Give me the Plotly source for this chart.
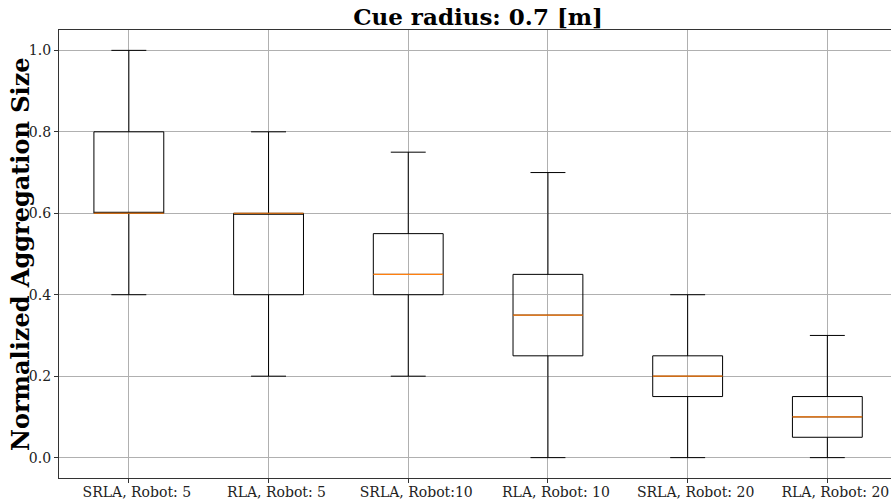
import plotly.graph_objects as go

categories = ["SRLA, Robot: 5", "RLA, Robot: 5", "SRLA, Robot:10",
              "RLA, Robot: 10", "SRLA, Robot: 20", "RLA, Robot: 20"]
lower_whisker = [0.4, 0.2, 0.2, 0.0, 0.0, 0.0]
q1_values = [0.6, 0.4, 0.4, 0.25, 0.15, 0.05]
median_values = [0.6, 0.6, 0.45, 0.35, 0.2, 0.1]
q3_values = [0.8, 0.6, 0.55, 0.45, 0.25, 0.15]
upper_whisker = [1.0, 0.8, 0.75, 0.7, 0.4, 0.3]
y_ticks = [0.0, 0.2, 0.4, 0.6, 0.8, 1.0]

positions = list(range(1, len(categories) + 1))
BOX_W = 0.5
FONT = "DejaVu Serif"

fig = go.Figure()
for i, pos in enumerate(positions):
    fig.add_trace(go.Box(
        x=[pos], q1=[q1_values[i]], median=[median_values[i]], q3=[q3_values[i]],
        lowerfence=[lower_whisker[i]], upperfence=[upper_whisker[i]],
        width=BOX_W, whiskerwidth=0.5, boxpoints=False,
        line=dict(color="black", width=1), fillcolor="rgba(0,0,0,0)",
        showlegend=False, hoverinfo="skip",
    ))

# orange median lines
mx, my = [], []
for i, pos in enumerate(positions):
    mx += [pos - BOX_W / 2, pos + BOX_W / 2, None]
    my += [median_values[i], median_values[i], None]
fig.add_trace(go.Scatter(x=mx, y=my, mode="lines",
                         line=dict(color="#ff7f0e", width=1.2),
                         showlegend=False, hoverinfo="skip"))

W, H = 891, 503
ml, mt, mb = 59, 30, 25
px_per_unit = 139.7
x_hi = 0.5 + (W - ml) / px_per_unit
plot_w = W - ml
TICK_SIZE = 14

fig.update_layout(
    width=W, height=H,
    margin=dict(l=ml, r=0, t=mt, b=mb, autoexpand=False),
    plot_bgcolor="white", paper_bgcolor="white",
    font=dict(family=FONT, color="black", size=12),
    title=dict(text="<b>Cue radius: 0.7 [m]</b>", x=(ml + 3 * px_per_unit) / W,
               xanchor="center", y=1 - 25 / H, yanchor="bottom",
               font=dict(family=FONT, size=23, color="black")),
)
fig.add_annotation(
    text="<b>Normalized Aggregation Size</b>", textangle=-90,
    xref="paper", yref="paper", x=-(ml - 20) / plot_w, y=0.5,
    xanchor="center", yanchor="middle", showarrow=False,
    font=dict(family=FONT, size=24, color="black"),
)
fig.update_xaxes(
    range=[0.5, x_hi], tickvals=positions, ticktext=categories,
    showgrid=True, gridcolor="#b0b0b0", gridwidth=0.8,
    showline=True, linecolor="#333333", linewidth=1.2, mirror=True,
    ticks="outside", ticklen=4, tickcolor="#333333", zeroline=False,
    automargin=False, ticklabelshift=8, ticklabelstandoff=-3,
    tickfont=dict(family=FONT, size=TICK_SIZE, color="#222222"),
)
fig.update_yaxes(
    range=[-0.05, 1.05], tickvals=y_ticks, ticktext=[f"{v:.1f}" for v in y_ticks],
    showgrid=True, gridcolor="#b0b0b0", gridwidth=0.8,
    showline=True, linecolor="#333333", linewidth=1.2, mirror=False,
    ticks="outside", ticklen=4, tickcolor="#333333", zeroline=False,
    automargin=False,
    tickfont=dict(family=FONT, size=TICK_SIZE, color="#222222"),
)

fig.write_html("out.html", config={"displayModeBar": False},
               post_script="document.body.style.margin='0';document.body.style.overflow='hidden';")
